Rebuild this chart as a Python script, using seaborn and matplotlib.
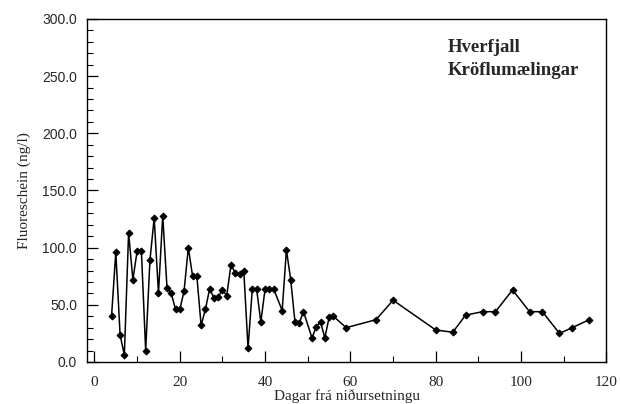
import matplotlib
matplotlib.use("Agg")
import matplotlib.pyplot as plt
import numpy as np
import pandas as pd
import seaborn as sns
from matplotlib.ticker import MultipleLocator, FormatStrFormatter

days = [4, 5, 6, 7, 8, 9, 10, 11, 12, 13, 14, 15, 16, 17, 18, 19, 20, 21, 22, 23,
        24, 25, 26, 27, 28, 29, 30, 31, 32, 33, 34, 35, 36, 37, 38, 39, 40, 41, 42,
        44, 45, 46, 47, 48, 49, 51, 52, 53, 54, 55, 56, 59, 66, 70, 80, 84, 87, 91,
        94, 98, 102, 105, 109, 112, 116]
fluor = [40, 96, 24, 6, 113, 72, 97, 97, 10, 89, 126, 60, 128, 65, 60, 46, 46, 62,
         100, 75, 75, 32, 46, 64, 56, 57, 63, 58, 85, 78, 77, 80, 12, 64, 64, 35, 64,
         64, 64, 45, 98, 72, 35, 34, 44, 21, 31, 35, 21, 39, 40, 30, 37, 54, 28, 26,
         41, 44, 44, 63, 44, 44, 25, 30, 37]

df = pd.DataFrame({"dagar": days, "fluor": fluor})

sns.set_style("ticks")
serif = ["Liberation Serif", "DejaVu Serif"]
sans = ["Liberation Sans", "DejaVu Sans"]

fig = plt.figure(figsize=(6.2, 4.04), dpi=100)
ax = fig.add_axes([0.140, 0.104, 0.838, 0.849])

sns.lineplot(data=df, x="dagar", y="fluor", ax=ax, color="black", linewidth=1.1,
             marker="D", markersize=3.5, markeredgecolor="black", markerfacecolor="black")

ax.set_xlim(-1.8, 120)
ax.set_ylim(0, 300)
ax.xaxis.set_major_locator(MultipleLocator(20))
ax.xaxis.set_minor_locator(MultipleLocator(10))
ax.yaxis.set_major_locator(MultipleLocator(50))
ax.yaxis.set_minor_locator(MultipleLocator(10))
ax.yaxis.set_major_formatter(FormatStrFormatter("%.1f"))

ax.tick_params(which="both", direction="in", top=False, right=False, color="black")
ax.tick_params(which="major", length=8, width=0.9)
ax.tick_params(which="minor", length=4, width=0.8)
ax.tick_params(axis="x", which="major", pad=10)
ax.tick_params(axis="y", which="major", pad=7)

for sp in ax.spines.values():
    sp.set_color("black")
    sp.set_linewidth(1.0)

for lab in ax.get_xticklabels():
    lab.set_family(serif)
    lab.set_fontsize(11)
for lab in ax.get_yticklabels():
    lab.set_family(sans)
    lab.set_fontsize(10)

ax.set_xlabel("Dagar frá niðursetningu", family=serif, fontsize=11, labelpad=0)
ax.set_ylabel("Fluoreschein (ng/l)", family=serif, fontsize=11, labelpad=8)

ax.text(82.8, 265, "Hverfjall\nKröflumælingar", family=serif, fontsize=13.5,
        fontweight="bold", ha="left", va="center", linespacing=1.45)

fig.savefig("out.png", dpi=100)
